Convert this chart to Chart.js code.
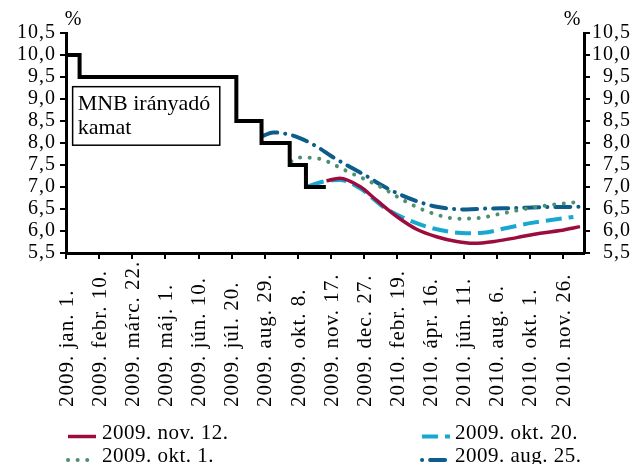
<!DOCTYPE html>
<html>
<head>
<meta charset="utf-8">
<script src="https://cdn.jsdelivr.net/npm/chart.js@4.4.1/dist/chart.umd.min.js"></script>
<style>
  html, body { margin: 0; padding: 0; background: #fff; }
</style>
</head>
<body>
<canvas id="myChart" width="631" height="464"></canvas>
<script>
// tick labels (equally spaced on the axis, x values below are in tick units)
const dateLabels = [
  '2009. jan. 1.', '2009. febr. 10.', '2009. márc. 22.', '2009. máj. 1.',
  '2009. jún. 10.', '2009. júl. 20.', '2009. aug. 29.', '2009. okt. 8.',
  '2009. nov. 17.', '2009. dec. 27.', '2010. febr. 19.', '2010. ápr. 16.',
  '2010. jún. 11.', '2010. aug. 6.', '2010. okt. 1.', '2010. nov. 26.'
];

// MNB irányadó kamat (step changes)
const rateX = [0, 0.41, 5.14, 5.90, 6.75, 7.24, 7.84];
const rateY = [10.0, 9.5, 8.5, 8.0, 7.5, 7.0, 7.0];

// 2009. nov. 12.
const nov12X = [7.86, 8.26, 8.87, 9.37, 9.98, 10.58, 11.18, 11.79, 12.29, 12.99, 13.60, 14.31, 14.91, 15.51];
const nov12Y = [7.14, 7.20, 7.01, 6.70, 6.33, 6.04, 5.87, 5.76, 5.72, 5.77, 5.85, 5.95, 6.01, 6.10];

// 2009. okt. 20.
const okt20X = [7.31, 7.86, 8.26, 8.87, 9.57, 10.18, 10.88, 11.59, 12.09, 12.58, 13.30, 14.10, 15.31];
const okt20Y = [7.02, 7.14, 7.16, 6.97, 6.55, 6.30, 6.10, 5.98, 5.95, 5.96, 6.07, 6.19, 6.32];

// 2009. okt. 1.
const okt1X = [6.80, 7.05, 7.66, 8.16, 8.56, 9.07, 9.57, 10.18, 10.78, 11.38, 11.79, 12.39, 13.10, 13.70, 14.40, 15.31];
const okt1Y = [7.58, 7.67, 7.64, 7.48, 7.33, 7.16, 6.97, 6.70, 6.48, 6.33, 6.28, 6.29, 6.39, 6.48, 6.57, 6.65];

// 2009. aug. 25.
const aug25X = [5.94, 6.25, 7.00, 7.56, 8.01, 8.56, 9.02, 9.57, 10.08, 10.58, 11.18, 12.09, 12.69, 13.49, 14.31, 15.51];
const aug25Y = [8.16, 8.24, 8.13, 7.92, 7.70, 7.46, 7.27, 7.02, 6.83, 6.68, 6.55, 6.49, 6.51, 6.52, 6.54, 6.55];

const toPoints = (xs, ys) => xs.map((x, i) => ({ x, y: ys[i] }));
const comma = v => v.toFixed(1).replace('.', ',');

const FONT = '"Liberation Serif", "Times New Roman", serif';
Chart.defaults.font.family = FONT;
Chart.defaults.font.size = 20;
Chart.defaults.color = '#000';

// a bit of tracking, the original face is wider than Times
const tracking = {
  id: 'tracking',
  beforeUpdate(chart) { chart.ctx.letterSpacing = '1px'; },
  beforeDraw(chart) { chart.ctx.letterSpacing = '1px'; }
};

const extras = {
  id: 'extras',
  afterDraw(chart) {
    const ctx = chart.ctx;
    const { x, y } = chart.scales;
    ctx.save();

    // date labels, rotated and starting from a common bottom line
    ctx.letterSpacing = '1px';
    ctx.font = '21px ' + FONT;
    ctx.fillStyle = '#000';
    ctx.textAlign = 'left';
    ctx.textBaseline = 'middle';
    x.ticks.forEach(t => {
      const px = x.getPixelForValue(t.value);
      ctx.save();
      ctx.translate(px + 1, 407);
      ctx.rotate(-Math.PI / 2);
      ctx.fillText(dateLabels[Math.round(t.value)], 0, 0);
      ctx.restore();
    });

    // % units
    ctx.letterSpacing = '0px';
    ctx.font = '20px ' + FONT;
    ctx.textAlign = 'center';
    ctx.fillText('%', 73, 20);
    ctx.fillText('%', 572, 20);

    // label box
    const bx = x.getPixelForValue(0.2), bx2 = x.getPixelForValue(4.64);
    const by = y.getPixelForValue(9.28), by2 = y.getPixelForValue(7.95);
    ctx.fillStyle = '#fff';
    ctx.fillRect(bx, by, bx2 - bx, by2 - by);
    ctx.strokeStyle = '#000';
    ctx.lineWidth = 1.5;
    ctx.strokeRect(bx, by, bx2 - bx, by2 - by);
    ctx.fillStyle = '#000';
    ctx.textAlign = 'left';
    ctx.font = '22px ' + FONT;
    ctx.fillText('MNB irányadó', bx + 5, by + 18);
    ctx.fillText('kamat', bx + 5, by + 42);

    // legend, two columns
    const items = [
      { ds: 1, lx: 68, ly: 436.5, tx: 102, ty: 433 },
      { ds: 2, lx: 422, ly: 436.5, tx: 455, ty: 433 },
      { ds: 3, lx: 68, ly: 460, tx: 102, ty: 456 },
      { ds: 4, lx: 422, ly: 460, tx: 455, ty: 456 }
    ];
    ctx.font = '21px ' + FONT;
    ctx.letterSpacing = '0.5px';
    items.forEach(it => {
      const d = chart.data.datasets[it.ds];
      ctx.save();
      ctx.strokeStyle = d.borderColor;
      ctx.lineWidth = d.borderWidth;
      ctx.lineCap = d.borderCapStyle || 'butt';
      ctx.setLineDash(d.borderDash || []);
      ctx.lineDashOffset = d.legendDashOffset || 0;
      ctx.beginPath();
      ctx.moveTo(it.lx, it.ly);
      ctx.lineTo(it.lx + 28, it.ly);
      ctx.stroke();
      ctx.restore();
      ctx.fillText(d.label, it.tx, it.ty);
    });
    ctx.restore();
  }
};

const axisGrid = { drawOnChartArea: false, drawTicks: true, tickLength: 6, color: '#000', lineWidth: 2 };
const axisBorder = { color: '#000', width: 3 };

new Chart(document.getElementById('myChart'), {
  type: 'line',
  data: {
    datasets: [
      {
        label: 'MNB irányadó kamat',
        data: toPoints(rateX, rateY),
        borderColor: '#000',
        borderWidth: 4,
        stepped: 'before',
        pointRadius: 0
      },
      {
        label: '2009. nov. 12.',
        data: toPoints(nov12X, nov12Y),
        borderColor: '#9c0d3e',
        borderWidth: 3.5,
        cubicInterpolationMode: 'monotone',
        pointRadius: 0
      },
      {
        label: '2009. okt. 20.',
        data: toPoints(okt20X, okt20Y),
        borderColor: '#17a8d2',
        borderWidth: 4,
        borderDash: [16, 7],
        cubicInterpolationMode: 'monotone',
        pointRadius: 0
      },
      {
        label: '2009. okt. 1.',
        data: toPoints(okt1X, okt1Y),
        borderColor: '#4e8f70',
        borderWidth: 4,
        borderDash: [0.1, 9.5],
        borderCapStyle: 'round',
        cubicInterpolationMode: 'monotone',
        pointRadius: 0
      },
      {
        label: '2009. aug. 25.',
        data: toPoints(aug25X, aug25Y),
        borderColor: '#0c5d8b',
        borderWidth: 4,
        borderDash: [15, 8, 0.1, 8],
        borderCapStyle: 'round',
        legendDashOffset: 23,
        cubicInterpolationMode: 'monotone',
        pointRadius: 0
      }
    ]
  },
  options: {
    responsive: false,
    animation: false,
    events: [],
    layout: { padding: { top: 33, left: 0, right: 0, bottom: 0 } },
    plugins: { legend: { display: false }, tooltip: { enabled: false } },
    scales: {
      x: {
        type: 'linear',
        min: 0,
        max: 15.63,
        afterBuildTicks: s => { s.ticks = dateLabels.map((_, i) => ({ value: i })); },
        afterFit: s => { s.height = 211; },
        ticks: { display: false, autoSkip: false },
        grid: axisGrid,
        border: axisBorder
      },
      y: {
        position: 'left',
        min: 5.5,
        max: 10.5,
        afterFit: s => { s.width = 66; },
        ticks: { stepSize: 0.5, autoSkip: false, padding: 4, callback: comma },
        grid: axisGrid,
        border: axisBorder
      },
      y2: {
        position: 'right',
        min: 5.5,
        max: 10.5,
        afterFit: s => { s.width = 47; },
        ticks: { stepSize: 0.5, autoSkip: false, crossAlign: 'far', callback: comma },
        grid: axisGrid,
        border: axisBorder
      }
    }
  },
  plugins: [tracking, extras]
});
</script>
</body>
</html>
